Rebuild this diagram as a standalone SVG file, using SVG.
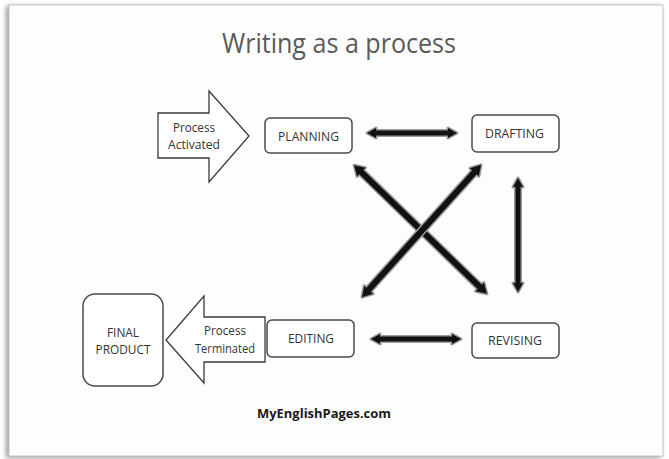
<svg xmlns="http://www.w3.org/2000/svg" width="669" height="459" viewBox="0 0 669 459">
  <style>
    .box { fill: #ffffff; stroke: #4a4a4a; stroke-width: 1.5; }
    .block { fill: #ffffff; stroke: #3a3a3a; stroke-width: 1.3; stroke-linejoin: miter; }
    .lbl { font-family: "Open Sans", "Liberation Sans", sans-serif; font-size: 12px; fill: #333333; text-anchor: middle; }
    .dbl { fill: #111111; stroke: #9a9a9a; stroke-width: 3; paint-order: stroke; stroke-linejoin: round; }
    .title { font-family: "Open Sans", "Liberation Sans", sans-serif; font-size: 27px; fill: #5a5a5a; text-anchor: middle; }
    .foot { font-family: "Open Sans", "Liberation Sans", sans-serif; font-size: 13px; font-weight: bold; fill: #1a1a1a; text-anchor: middle; }
  </style>
  <defs>
    <filter id="soft" x="-5%" y="-5%" width="110%" height="110%">
      <feGaussianBlur stdDeviation="2.5"/>
    </filter>
  </defs>

  <!-- page background and card -->
  <rect x="0" y="0" width="669" height="459" fill="#ffffff"/>
  <rect x="6" y="6" width="655" height="452" fill="#9a9a9a" filter="url(#soft)"/>
  <rect x="9" y="5" width="654" height="451" fill="#fdfdfd" stroke="#c4c4c4" stroke-width="1"/>

  <text class="title" x="339" y="53" textLength="234" lengthAdjust="spacingAndGlyphs">Writing as a process</text>

  <g id="process-activated">
    <polygon class="block" points="158,113 209,113 209,91 249,136 209,182 209,158 158,158"/>
    <text class="lbl" x="194" y="132" textLength="42" lengthAdjust="spacingAndGlyphs">Process</text>
    <text class="lbl" x="194" y="149" textLength="52" lengthAdjust="spacingAndGlyphs">Activated</text>
  </g>

  <g id="planning">
    <rect class="box" x="265" y="118" width="87" height="35" rx="5"/>
    <text class="lbl" x="308.5" y="141" textLength="61" lengthAdjust="spacingAndGlyphs">PLANNING</text>
  </g>

  <g id="drafting">
    <rect class="box" x="472" y="115" width="87" height="37" rx="5"/>
    <text class="lbl" x="514.5" y="138" textLength="59" lengthAdjust="spacingAndGlyphs">DRAFTING</text>
  </g>

  <g id="editing">
    <rect class="box" x="267" y="320" width="87" height="37" rx="5"/>
    <text class="lbl" x="311" y="343" textLength="46" lengthAdjust="spacingAndGlyphs">EDITING</text>
  </g>

  <g id="revising">
    <rect class="box" x="472" y="323" width="87" height="35" rx="5"/>
    <text class="lbl" x="515" y="345" textLength="54" lengthAdjust="spacingAndGlyphs">REVISING</text>
  </g>

  <g id="process-terminated">
    <polygon class="block" points="265,317 204,317 204,296 166,340 204,383 204,362 265,362"/>
    <text class="lbl" x="225" y="335" textLength="42" lengthAdjust="spacingAndGlyphs">Process</text>
    <text class="lbl" x="225" y="353" textLength="60" lengthAdjust="spacingAndGlyphs">Terminated</text>
  </g>

  <g id="final-product">
    <rect class="box" x="83" y="294" width="80" height="92" rx="12"/>
    <text class="lbl" x="123" y="337" textLength="32" lengthAdjust="spacingAndGlyphs">FINAL</text>
    <text class="lbl" x="123" y="354" textLength="55" lengthAdjust="spacingAndGlyphs">PRODUCT</text>
  </g>

  <!-- two-headed connectors -->
  <g id="connectors">
    <path class="dbl" transform="translate(412,133)" d="M-45,0 L-36,-5 L-36,-2.5 L36,-2.5 L36,-5 L45,0 L36,5 L36,2.5 L-36,2.5 L-36,5 Z"/>
    <path class="dbl" transform="translate(416,339)" d="M-45,0 L-36,-5 L-36,-2.5 L36,-2.5 L36,-5 L45,0 L36,5 L36,2.5 L-36,2.5 L-36,5 Z"/>
    <path class="dbl" transform="translate(518,235) rotate(90)" d="M-57,0 L-48,-5 L-48,-2.5 L48,-2.5 L48,-5 L57,0 L48,5 L48,2.5 L-48,2.5 L-48,5 Z"/>
    <path class="dbl" transform="translate(420.5,229.5) rotate(44.1)" d="M-92.5,0 L-82.5,-6 L-82.5,-3 L82.5,-3 L82.5,-6 L92.5,0 L82.5,6 L82.5,3 L-82.5,3 L-82.5,6 Z"/>
    <path class="dbl" transform="translate(421.5,231) rotate(-48)" d="M-89,0 L-79,-6 L-79,-3 L79,-3 L79,-6 L89,0 L79,6 L79,3 L-79,3 L-79,6 Z"/>
  </g>

  <text class="foot" x="324" y="418" textLength="134" lengthAdjust="spacingAndGlyphs">MyEnglishPages.com</text>
</svg>
